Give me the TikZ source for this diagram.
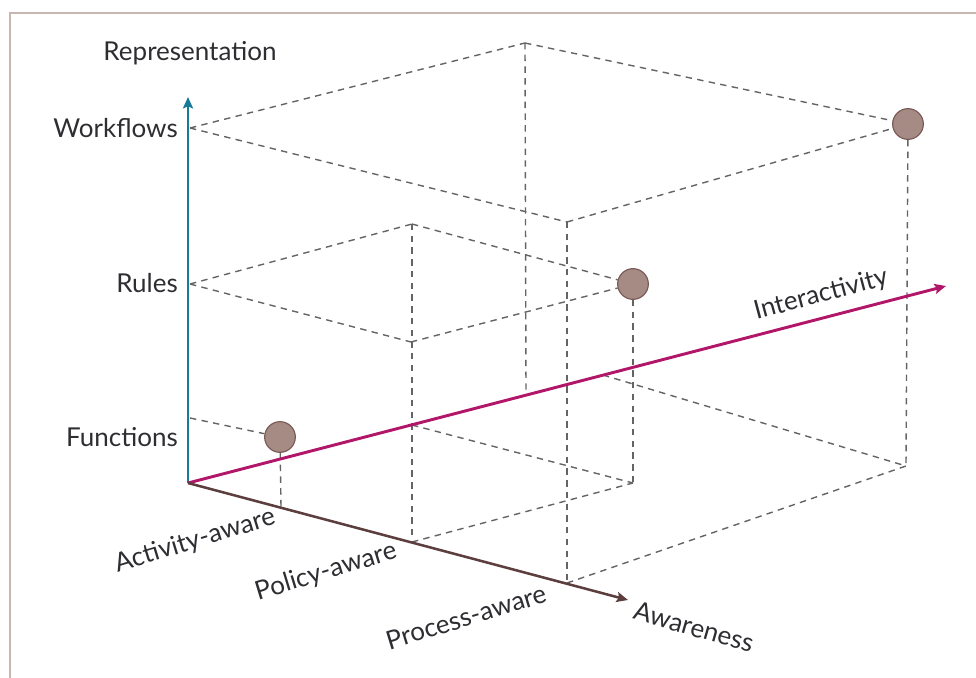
\documentclass[tikz,border=0pt]{standalone}
\usepackage{fontspec}
\setmainfont{Lato}
\usepackage{tikz}
\usetikzlibrary{arrows.meta}
\definecolor{reprteal}{RGB}{22,122,152}
\definecolor{interpink}{RGB}{178,22,104}
\definecolor{awarebrown}{RGB}{92,62,62}
\definecolor{guidegray}{RGB}{100,100,100}
\definecolor{dotfill}{RGB}{166,139,133}
\definecolor{dotedge}{RGB}{122,92,87}
\definecolor{labelgray}{RGB}{45,45,50}
\definecolor{framegray}{RGB}{200,182,177}

\begin{document}
\begin{tikzpicture}[x=0.75pt,y=0.75pt,yscale=-1,xscale=1,
  guide/.style={draw=guidegray, line width=1.05pt, dash pattern={on 4.8pt off 4pt}},
  dot/.style={circle, fill=dotfill, draw=dotedge, line width=0.9pt, minimum size=23pt, inner sep=0pt},
  axislabel/.style={text=labelgray, font=\fontsize{19.5}{23}\selectfont, inner sep=0.75pt},
  axisline/.style={line width=#1, -{Stealth[length=8.5pt,width=7.5pt,inset=1.5pt]}}]
\useasboundingbox (0,0) rectangle (976,678);

%Frame
\draw [framegray, line width=1.5pt] (10,678) -- (10,13) -- (976,13);

%Axis points
\coordinate (O) at (188,483);
\coordinate (reptip) at (188,97);
\coordinate (inttip) at (946,286);
\coordinate (awrtip) at (628,600);
%Levels on the representation axis
\coordinate (fun) at (190,418);
\coordinate (rul) at (190,284);
\coordinate (wfl) at (190,128);
%Levels on the awareness axis
\coordinate (act) at (281,507);
\coordinate (pol) at (412,542);
\coordinate (proc) at (567,583);

%Dots
\node [dot] (dotA) at (280,437) {};
\node [dot] (dotB) at (633,284) {};
\node [dot] (dotC) at (908,124) {};

%Workflows box
\coordinate (wtop) at (525,43);
\coordinate (wmid) at (567,222);
\coordinate (wint) at (526,394);
\coordinate (wcut) at (603,375);
\coordinate (wbot) at (906,466);
\draw [guide] (wfl) -- (wtop);
\draw [guide] (wfl) -- (wmid);
\draw [guide] (wtop) -- (dotC);
\draw [guide] (wmid) -- (dotC);
\draw [guide] (wtop) -- (wint);
\draw [guide] (wmid) -- (proc);
\draw [guide] (dotC) -- (wbot);
\draw [guide] (wcut) -- (wbot);
\draw [guide] (proc) -- (wbot);

%Rules box
\coordinate (rtop) at (412,224);
\coordinate (rmid) at (411,342);
\coordinate (rint) at (412,425);
\coordinate (rbot) at (633,483);
\draw [guide] (rul) -- (rtop);
\draw [guide] (rul) -- (rmid);
\draw [guide] (rtop) -- (dotB);
\draw [guide] (rmid) -- (dotB);
\draw [guide] (rtop) -- (pol);
\draw [guide] (dotB) -- (rbot);
\draw [guide] (rint) -- (rbot);
\draw [guide] (pol) -- (rbot);

%Functions
\draw [guide] (fun) -- (dotA);
\draw [guide] (dotA) -- (act);

%Axes
\draw [reprteal, axisline=2.1pt] (O) -- (reptip);
\draw [interpink, axisline=2.2pt] (O) -- (inttip);
\draw [awarebrown, axisline=1.9pt] (O) -- (awrtip);

% Text Node
\node [axislabel] (repr) at (190,53) {Representation};
% Text Node
\node [axislabel, anchor=east] (wfltxt) at (179,128) {Workflows};
% Text Node
\node [axislabel, anchor=east] (rultxt) at (179,283) {Rules};
% Text Node
\node [axislabel, anchor=east] (funtxt) at (179,437) {Functions};
% Text Node
\node [axislabel, rotate=15] (inttxt) at (821,295) {Interactivity};
% Text Node
\node [axislabel, rotate=17] (acttxt) at (195,541) {Activity-aware};
% Text Node
\node [axislabel, rotate=17] (poltxt) at (326,572) {Policy-aware};
% Text Node
\node [axislabel, rotate=17] (proctxt) at (466,617) {Process-aware};
% Text Node
\node [axislabel, rotate=-16] (awrtxt) at (694,627) {Awareness};
\end{tikzpicture}
\end{document}
